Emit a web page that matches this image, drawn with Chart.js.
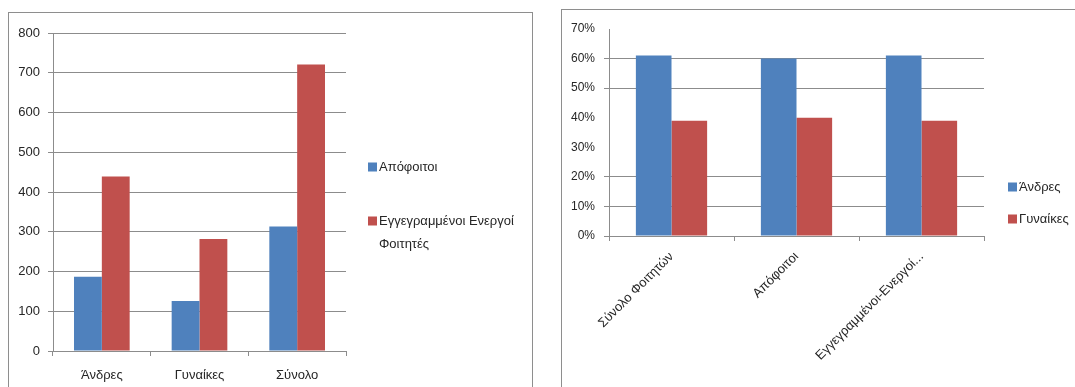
<!DOCTYPE html>
<html lang="el">
<head>
<meta charset="utf-8">
<title>Απόφοιτοι και ενεργοί φοιτητές</title>
<script src="https://cdn.jsdelivr.net/npm/chart.js@4.4.1/dist/chart.umd.min.js"></script>
<style>
  html, body { margin: 0; padding: 0; background: #fff; overflow: hidden; }
  .box { position: absolute; border: 1px solid #8e8e8e; background: #fff; }
  #box_counts { left: 8px; top: 12px; width: 523px; height: 400px; }
  #box_shares { left: 561px; top: 9px; width: 540px; height: 400px; }
  .box canvas { position: absolute; left: 0; top: 0; }
</style>
</head>
<body>
<div class="box" id="box_counts"><canvas id="chart_counts" width="523" height="374"></canvas></div>
<div class="box" id="box_shares"><canvas id="chart_shares" width="513" height="377"></canvas></div>

<script>
// --- counts by sex ---
const count_categories = ['Άνδρες', 'Γυναίκες', 'Σύνολο'];
const graduates = [187, 126, 313];
const enrolled = [439, 282, 721];
const count_ticks = [0, 100, 200, 300, 400, 500, 600, 700, 800];

// --- share of men / women per group (%) ---
const share_categories = ['Σύνολο Φοιτητών', 'Απόφοιτοι', 'Εγγεγραμμένοι-Ενεργοί Φοιτητές'];
const men_share = [61, 60, 61];
const women_share = [39, 40, 39];
const share_ticks = [0, 10, 20, 30, 40, 50, 60, 70];

const BLUE = '#4f81bd';
const RED = '#c0504d';
const GRID = '#8c8c8c';
const TEXT = '#262626';

Chart.defaults.font.family = "'Liberation Sans', Arial, sans-serif";
Chart.defaults.color = TEXT;
Chart.defaults.animation = false;

// break a legend label into lines no wider than maxWidth
function wrap_text(ctx, text, maxWidth) {
  const words = text.split(' ');
  const lines = [];
  let cur = '';
  words.forEach(w => {
    const test = cur ? cur + ' ' + w : w;
    if (cur && ctx.measureText(test).width > maxWidth) {
      lines.push(cur);
      cur = w;
    } else {
      cur = test;
    }
  });
  if (cur) lines.push(cur);
  return lines;
}

// legend drawn to the right of the plot, one row per dataset
const side_legend = {
  id: 'side_legend',
  afterDraw(chart, args, opts) {
    const ctx = chart.ctx;
    const area = chart.chartArea;
    ctx.save();
    ctx.font = opts.font;
    ctx.textBaseline = 'middle';
    ctx.textAlign = 'left';
    chart.data.datasets.forEach((ds, i) => {
      const x = area.right + opts.dx;
      const y = area.top + opts.rows[i];
      ctx.fillStyle = ds.backgroundColor;
      ctx.fillRect(x, y - opts.box / 2, opts.box, opts.box);
      ctx.fillStyle = TEXT;
      wrap_text(ctx, ds.label, opts.maxWidth).forEach((line, j) => {
        ctx.fillText(line, x + opts.box + opts.gap, y + j * opts.lineHeight);
      });
    });
    ctx.restore();
  }
};

function fixed_ticks(list) {
  return scale => { scale.ticks = list.map(v => ({ value: v })); };
}

new Chart(document.getElementById('chart_counts'), {
  type: 'bar',
  data: {
    labels: count_categories,
    datasets: [
      { label: 'Απόφοιτοι', data: graduates, backgroundColor: BLUE },
      { label: 'Εγγεγραμμένοι Ενεργοί Φοιτητές', data: enrolled, backgroundColor: RED }
    ]
  },
  options: {
    responsive: false,
    layout: { padding: { left: 0, top: 20, right: 186, bottom: 0 } },
    categoryPercentage: 0.57,
    barPercentage: 1.0,
    plugins: {
      legend: { display: false },
      tooltip: { enabled: false },
      side_legend: { dx: 22, rows: [134, 188], box: 9, gap: 2, lineHeight: 23, maxWidth: 150, font: "13px 'Liberation Sans', Arial, sans-serif" }
    },
    scales: {
      x: {
        grid: { display: true, drawOnChartArea: false, drawTicks: true, tickLength: 5, color: GRID, offset: true },
        border: { display: true, color: GRID },
        ticks: { font: { size: 13 }, padding: 12 },
        afterFit: s => { s.height = 36; }
      },
      y: {
        min: count_ticks[0],
        max: count_ticks[count_ticks.length - 1],
        afterBuildTicks: fixed_ticks(count_ticks),
        grid: { color: GRID, tickLength: 5 },
        border: { display: true, color: GRID },
        ticks: { font: { size: 13 }, padding: 8 },
        afterFit: s => { s.width = 44; }
      }
    }
  },
  plugins: [side_legend]
});

// rows at 30%, 40% and 70% have no visible grid line
const faint_rows = [30, 40, 70];
const share_grid = share_ticks.map(v => faint_rows.includes(v) ? 'rgba(0,0,0,0)' : GRID);

new Chart(document.getElementById('chart_shares'), {
  type: 'bar',
  data: {
    labels: share_categories,
    datasets: [
      { label: 'Άνδρες', data: men_share, backgroundColor: BLUE },
      { label: 'Γυναίκες', data: women_share, backgroundColor: RED }
    ]
  },
  options: {
    responsive: false,
    layout: { padding: { left: 0, top: 19, right: 91, bottom: 0 } },
    categoryPercentage: 0.57,
    barPercentage: 1.0,
    plugins: {
      legend: { display: false },
      tooltip: { enabled: false },
      side_legend: { dx: 24, rows: [158, 190], box: 9, gap: 2, lineHeight: 20, maxWidth: 200, font: "13px 'Liberation Sans', Arial, sans-serif" }
    },
    scales: {
      x: {
        grid: { display: true, drawOnChartArea: false, drawTicks: true, tickLength: 5, color: GRID, offset: true },
        border: { display: true, color: GRID },
        ticks: {
          font: { size: 13 },
          padding: 8,
          minRotation: 45,
          maxRotation: 45,
          autoSkip: false,
          callback: function (v) {
            const t = this.getLabelForValue(v);
            return t.length > 22 ? t.slice(0, 21) + '...' : t;
          }
        },
        afterFit: s => { s.height = 151; }
      },
      y: {
        min: share_ticks[0],
        max: share_ticks[share_ticks.length - 1],
        afterBuildTicks: fixed_ticks(share_ticks),
        grid: { tickLength: 5, color: share_grid },
        border: { display: true, color: GRID },
        ticks: { font: { size: 12 }, padding: 9, callback: v => v + '%' },
        afterFit: s => { s.width = 47; }
      }
    }
  },
  plugins: [side_legend]
});
</script>
</body>
</html>
